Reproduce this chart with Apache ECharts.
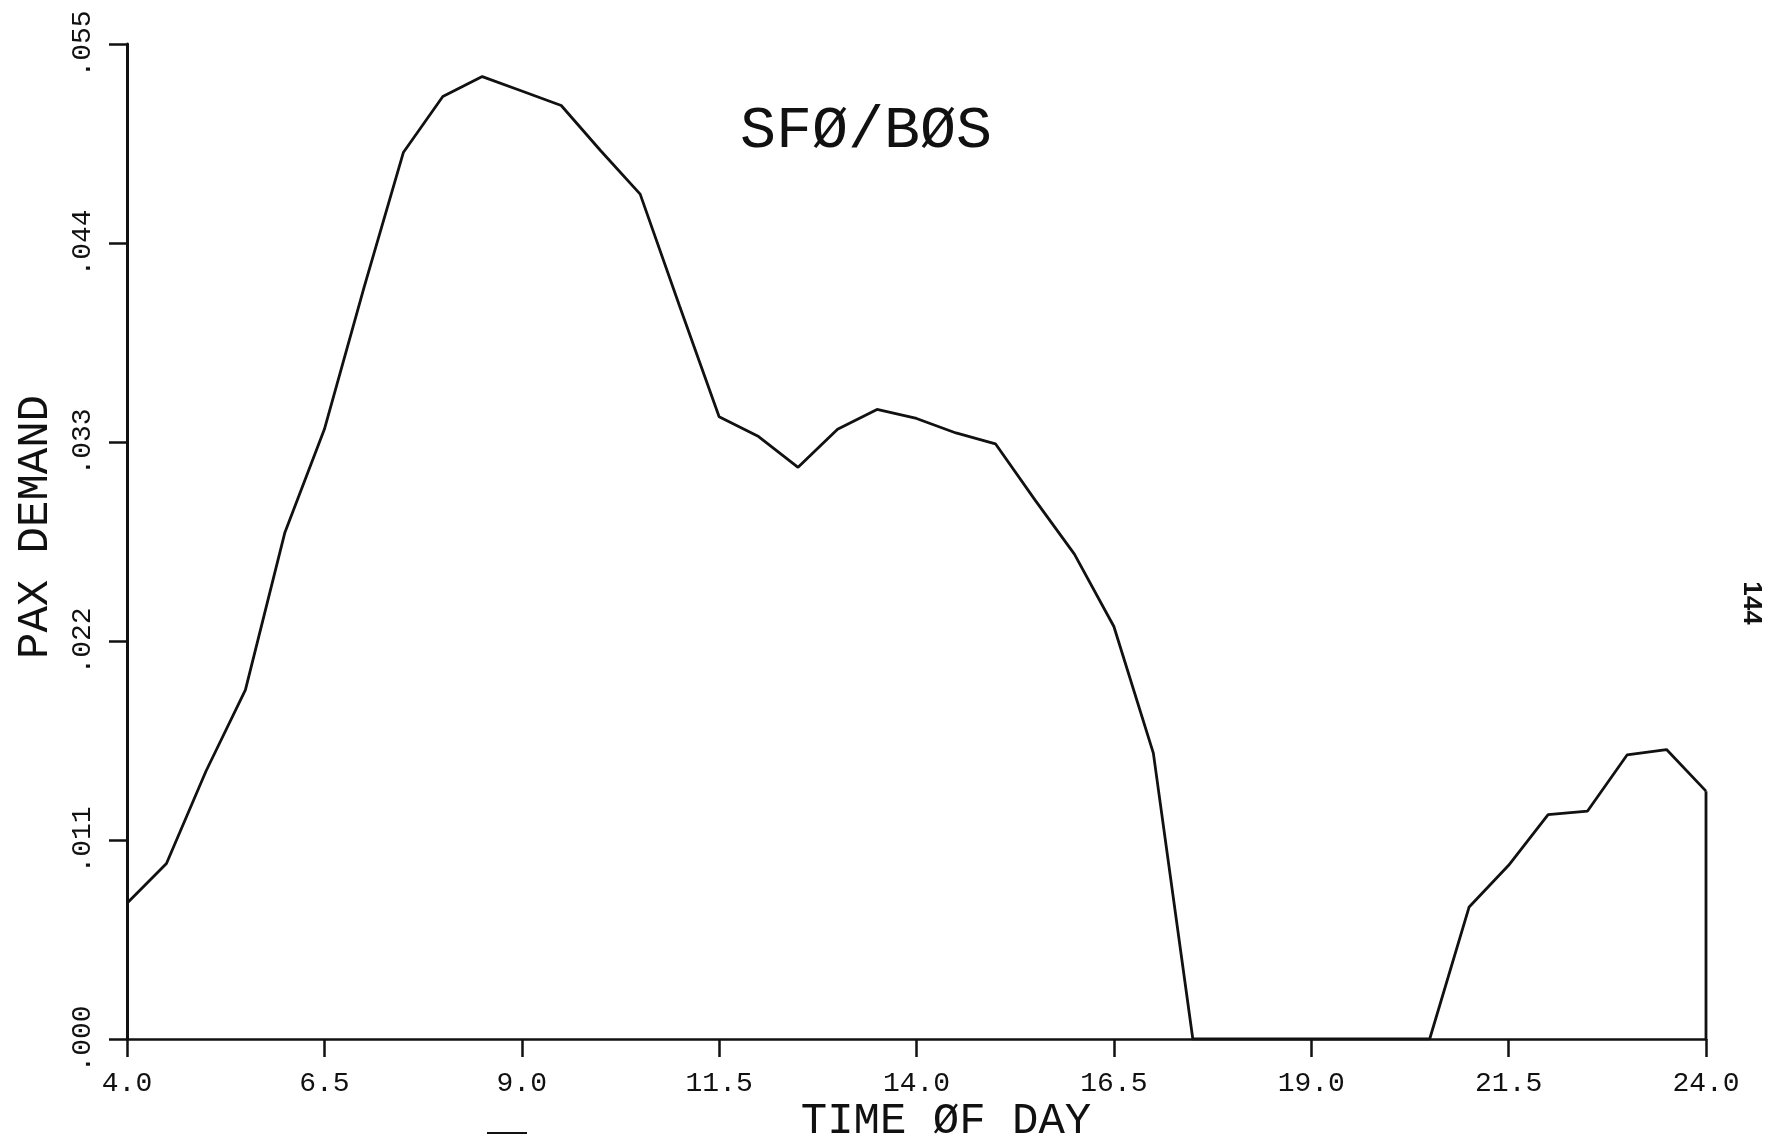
<!DOCTYPE html>
<html>
<head>
<meta charset="utf-8">
<script src="https://cdn.jsdelivr.net/npm/echarts@6/dist/echarts.min.js"></script>
<style>
  html, body { margin: 0; padding: 0; background: #ffffff; }
  #chart { width: 1776px; height: 1140px; }
</style>
</head>
<body>
<div id="chart"></div>
<script>
// ---- data ----
const hours = [4.0, 4.5, 5.0, 5.5, 6.0, 6.5, 7.0, 7.5, 8.0, 8.5,
               9.0, 9.5, 10.0, 10.5, 11.0, 11.5, 12.0, 12.5, 13.0, 13.5,
               14.0, 14.5, 15.0, 15.5, 16.0, 16.5, 17.0, 17.5, 18.0, 18.5,
               19.0, 19.5, 20.0, 20.5, 21.0, 21.5, 22.0, 22.5, 23.0, 23.5,
               24.0];
const paxDemand = [0.0075, 0.0097, 0.0148, 0.0193, 0.0280, 0.0337, 0.0415, 0.0490, 0.0521, 0.0532,
                   0.0524, 0.0516, 0.0491, 0.0467, 0.0405, 0.0344, 0.0333, 0.0316, 0.0337, 0.0348,
                   0.0343, 0.0335, 0.0329, 0.0298, 0.0268, 0.0228, 0.0158, 0.0000, 0.0000, 0.0000,
                   0.0000, 0.0000, 0.0000, 0.0000, 0.0073, 0.0096, 0.0124, 0.0126, 0.0157, 0.0160,
                   0.0137];
const xTickLabels = ['4.0', '6.5', '9.0', '11.5', '14.0', '16.5', '19.0', '21.5', '24.0'];
const yTickLabels = ['.000', '.011', '.022', '.033', '.044', '.055'];
const titleText = 'SF\u00D8/B\u00D8S';
const xName = 'TIME \u00D8F DAY';
const yName = 'PAX DEMAND';
const pageNote = '144';

const X0 = hours[0];           // axis origin (hours)
const X_STEP = 2.5;
const Y_STEP = 0.011;

const FONT = '"Liberation Mono", "DejaVu Sans Mono", monospace';
const INK = '#111111';

const chart = echarts.init(document.getElementById('chart'), null, { renderer: 'canvas' });

const lineData = hours.map((h, i) => [h - X0, paxDemand[i]]);
const last = hours.length - 1;
const dropData = [[hours[last] - X0, 0], [hours[last] - X0, paxDemand[last]]];

chart.setOption({
  animation: false,
  backgroundColor: '#ffffff',
  grid: { left: 127, right: 70, top: 44, bottom: 101, containLabel: false },
  xAxis: {
    type: 'value',
    min: 0,
    max: hours[last] - X0,
    interval: X_STEP,
    splitLine: { show: false },
    axisLine: { show: true, onZero: true, lineStyle: { color: INK, width: 2.5 } },
    axisTick: { show: true, inside: false, length: 18, lineStyle: { color: INK, width: 2.5 } },
    axisLabel: {
      show: true, margin: 31, color: INK, fontFamily: FONT, fontSize: 28,
      formatter: (v) => xTickLabels[Math.round(v / X_STEP)] || ''
    }
  },
  yAxis: {
    type: 'value',
    min: 0,
    max: Y_STEP * (yTickLabels.length - 1),
    interval: Y_STEP,
    splitLine: { show: false },
    axisLine: { show: true, lineStyle: { color: INK, width: 3 } },
    axisTick: { show: true, inside: false, length: 18, lineStyle: { color: INK, width: 2.5 } },
    axisLabel: {
      show: true, margin: 30, rotate: 90, color: INK, fontFamily: FONT, fontSize: 28,
      formatter: (v) => yTickLabels[Math.round(v / Y_STEP)] || ''
    }
  },
  series: [
    {
      type: 'line',
      data: lineData,
      symbol: 'none',
      lineStyle: { color: INK, width: 2.8 },
      silent: true
    },
    {
      type: 'line',
      data: dropData,
      symbol: 'none',
      lineStyle: { color: INK, width: 2.8 },
      silent: true
    }
  ],
  graphic: [
    {
      type: 'text', x: 866, y: 131,
      style: { text: titleText, font: '60px ' + FONT, fill: INK, align: 'center', verticalAlign: 'middle' }
    },
    {
      type: 'text', x: 946, y: 1121,
      style: { text: xName, font: '44px ' + FONT, fill: INK, align: 'center', verticalAlign: 'middle' }
    },
    {
      type: 'text', x: 35, y: 527, rotation: Math.PI / 2,
      style: { text: yName, font: '44px ' + FONT, fill: INK, align: 'center', verticalAlign: 'middle' }
    },
    {
      type: 'text', x: 1751, y: 603, rotation: -Math.PI / 2,
      style: { text: pageNote, font: 'bold 26px "Liberation Sans", Arial, sans-serif', fill: INK, align: 'center', verticalAlign: 'middle' }
    },
    {
      type: 'line',
      shape: { x1: 487, y1: 1133, x2: 527, y2: 1133 },
      style: { stroke: INK, lineWidth: 2 }
    }
  ]
});
</script>
</body>
</html>
